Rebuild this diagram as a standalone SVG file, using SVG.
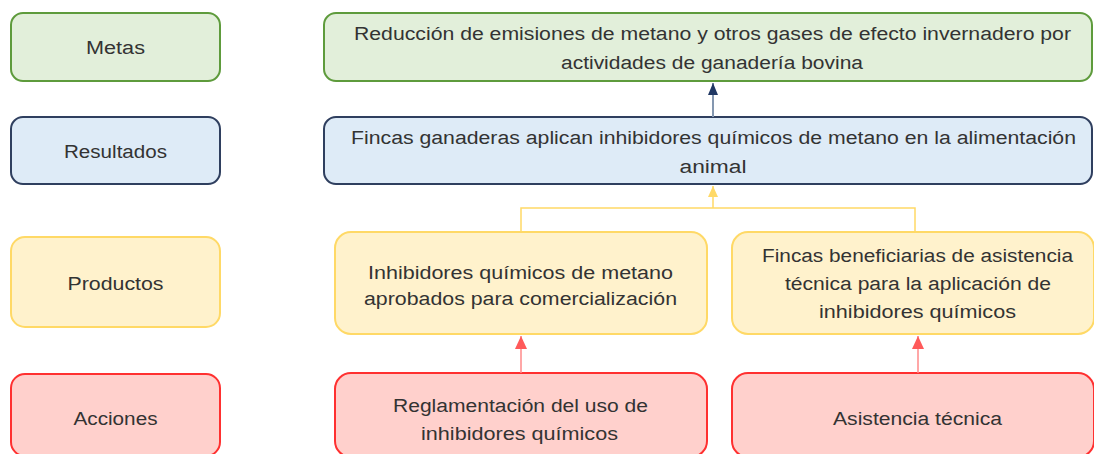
<svg xmlns="http://www.w3.org/2000/svg" width="1094" height="454" viewBox="0 0 1094 454">
<defs>
<style>
text{font-family:"Liberation Sans",Arial,sans-serif;font-size:18px;fill:#333333;text-anchor:middle}
.g{fill:#e2efda;stroke:#5e9b3c;stroke-width:2}
.b{fill:#deebf7;stroke:#2f3f5f;stroke-width:2}
.y{fill:#fff2cc;stroke:#ffd966;stroke-width:2}
.r{fill:#ffd0cc;stroke:#ff3030;stroke-width:2}
</style>
<marker id="ab" markerWidth="12" markerHeight="10" refX="12" refY="5" orient="auto" markerUnits="userSpaceOnUse" viewBox="0 0 12 10"><path d="M0,0 L12,5 L0,10 Z" fill="#203864"/></marker>
<marker id="ay" markerWidth="11" markerHeight="10" refX="11" refY="5" orient="auto" markerUnits="userSpaceOnUse" viewBox="0 0 11 10"><path d="M0,0 L11,5 L0,10 Z" fill="#ffd966"/></marker>
<marker id="ar" markerWidth="13" markerHeight="12" refX="13" refY="6" orient="auto" markerUnits="userSpaceOnUse" viewBox="0 0 13 12"><path d="M0,0 L13,6 L0,12 Z" fill="#ff5a5a"/></marker>
</defs>
<g id="metas"><rect class="g" x="11" y="13" width="209" height="68" rx="12"/><text x="115.5" y="54" textLength="59" lengthAdjust="spacingAndGlyphs">Metas</text></g>
<g id="resultados"><rect class="b" x="11" y="117" width="209" height="67" rx="12"/><text x="115.5" y="158" textLength="103" lengthAdjust="spacingAndGlyphs">Resultados</text></g>
<g id="productos"><rect class="y" x="11" y="237" width="209" height="90" rx="14"/><text x="115.5" y="290" textLength="96" lengthAdjust="spacingAndGlyphs">Productos</text></g>
<g id="acciones"><rect class="r" x="11" y="374" width="209" height="82" rx="14"/><text x="115.5" y="425" textLength="84" lengthAdjust="spacingAndGlyphs">Acciones</text></g>
<g id="meta1"><rect class="g" x="324" y="13" width="768" height="68" rx="12"/>
<text x="712.5" y="40" textLength="717" lengthAdjust="spacingAndGlyphs">Reducción de emisiones de metano y otros gases de efecto invernadero por</text>
<text x="712" y="69" textLength="302" lengthAdjust="spacingAndGlyphs">actividades de ganadería bovina</text></g>
<g id="resultado1"><rect class="b" x="324" y="117" width="768" height="67" rx="12"/>
<text x="713.5" y="144" textLength="725" lengthAdjust="spacingAndGlyphs">Fincas ganaderas aplican inhibidores químicos de metano en la alimentación</text>
<text x="713" y="173" textLength="67" lengthAdjust="spacingAndGlyphs">animal</text></g>
<g id="producto1"><rect class="y" x="335" y="232" width="372" height="102" rx="16"/>
<text x="520.5" y="279" textLength="305" lengthAdjust="spacingAndGlyphs">Inhibidores químicos de metano</text>
<text x="520.5" y="305" textLength="313" lengthAdjust="spacingAndGlyphs">aprobados para comercialización</text></g>
<g id="producto2"><rect class="y" x="732" y="232" width="362" height="102" rx="16"/>
<text x="917.5" y="262" textLength="311" lengthAdjust="spacingAndGlyphs">Fincas beneficiarias de asistencia</text>
<text x="918" y="290" textLength="266" lengthAdjust="spacingAndGlyphs">técnica para la aplicación de</text>
<text x="917.5" y="318" textLength="197" lengthAdjust="spacingAndGlyphs">inhibidores químicos</text></g>
<g id="accion1"><rect class="r" x="335" y="373" width="372" height="84" rx="16"/>
<text x="520.5" y="412" textLength="255" lengthAdjust="spacingAndGlyphs">Reglamentación del uso de</text>
<text x="519.5" y="440" textLength="197" lengthAdjust="spacingAndGlyphs">inhibidores químicos</text></g>
<g id="accion2"><rect class="r" x="732" y="373" width="362" height="84" rx="16"/>
<text x="917.5" y="425" textLength="169" lengthAdjust="spacingAndGlyphs">Asistencia técnica</text></g>
<g id="connectors" fill="none">
<line x1="713" y1="117" x2="713" y2="83" stroke="#8497b0" stroke-width="2" marker-end="url(#ab)"/>
<path d="M521,232 V208 H915 V232" stroke="#ffd966" stroke-width="1.5"/>
<line x1="713" y1="208" x2="713" y2="186" stroke="#ffd966" stroke-width="1.5" marker-end="url(#ay)"/>
<line x1="521" y1="373" x2="521" y2="336" stroke="#ff8a8a" stroke-width="1.5" marker-end="url(#ar)"/>
<line x1="918" y1="373" x2="918" y2="336" stroke="#ff8a8a" stroke-width="1.5" marker-end="url(#ar)"/>
</g>
</svg>
